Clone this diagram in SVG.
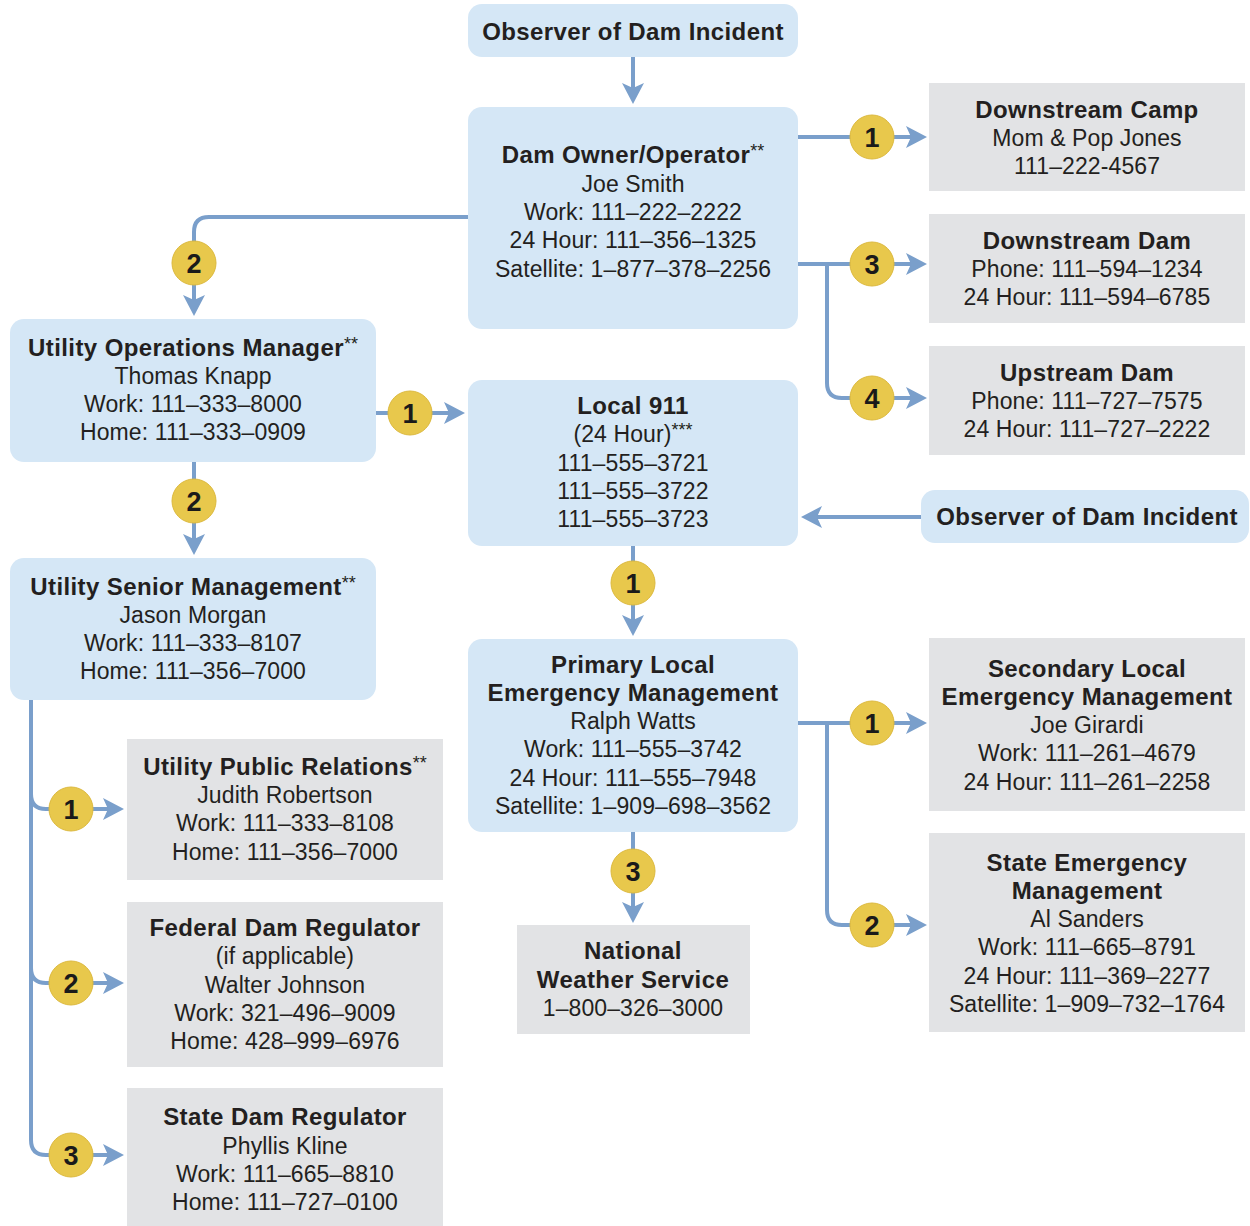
<svg xmlns="http://www.w3.org/2000/svg" width="1250" height="1226" viewBox="0 0 1250 1226">
<defs>
<style>
.bl{fill:#d5e7f6}
.gr{fill:#e2e3e5}
text{font-family:"Liberation Sans",Arial,sans-serif;fill:#231f20;text-anchor:middle}
.t{font-size:24px;font-weight:bold;letter-spacing:0.4px}
.r{font-size:23px;letter-spacing:0.1px}
.s{font-size:18px;font-weight:normal;letter-spacing:0}
.cn{fill:none;stroke:#7a9fcb;stroke-width:4}
.bd{fill:#e8c84c;stroke:#dcb93e;stroke-width:1}
.bn{font-size:27px;font-weight:bold;fill:#1a1a1a}
</style>
<marker id="ah" markerUnits="userSpaceOnUse" markerWidth="22" markerHeight="24" viewBox="0 0 22 24" refX="5" refY="12" orient="auto">
<path d="M0,1 L21,12 L0,23 L5,12 Z" fill="#7a9fcb"/>
</marker>
</defs>
<rect width="1250" height="1226" fill="#ffffff"/>

<g id="connectors">
<path class="cn" d="M633,57 V88" marker-end="url(#ah)"/>
<path class="cn" d="M798,137 H911" marker-end="url(#ah)"/>
<path class="cn" d="M798,264 H911" marker-end="url(#ah)"/>
<path class="cn" d="M827,264 V383 Q827,398 842,398 H911" marker-end="url(#ah)"/>
<path class="cn" d="M468,217 H209 Q194,217 194,232 V300" marker-end="url(#ah)"/>
<path class="cn" d="M376,413 H449" marker-end="url(#ah)"/>
<path class="cn" d="M194,462 V539" marker-end="url(#ah)"/>
<path class="cn" d="M921,517 H817" marker-end="url(#ah)"/>
<path class="cn" d="M633,546 V620" marker-end="url(#ah)"/>
<path class="cn" d="M798,723 H911" marker-end="url(#ah)"/>
<path class="cn" d="M827,723 V910 Q827,925 842,925 H911" marker-end="url(#ah)"/>
<path class="cn" d="M633,832 V907" marker-end="url(#ah)"/>
<path class="cn" d="M31,700 V1140 Q31,1155 46,1155 H108" marker-end="url(#ah)"/>
<path class="cn" d="M31,794 Q31,809 46,809 H108" marker-end="url(#ah)"/>
<path class="cn" d="M31,968 Q31,983 46,983 H108" marker-end="url(#ah)"/>
<g id="badges">
<circle class="bd" cx="872" cy="137" r="22"/><text class="bn" x="872" y="147">1</text>
<circle class="bd" cx="872" cy="264" r="22"/><text class="bn" x="872" y="274">3</text>
<circle class="bd" cx="872" cy="398" r="22"/><text class="bn" x="872" y="408">4</text>
<circle class="bd" cx="194" cy="263" r="22"/><text class="bn" x="194" y="273">2</text>
<circle class="bd" cx="410" cy="413" r="22"/><text class="bn" x="410" y="423">1</text>
<circle class="bd" cx="194" cy="501" r="22"/><text class="bn" x="194" y="511">2</text>
<circle class="bd" cx="633" cy="583" r="22"/><text class="bn" x="633" y="593">1</text>
<circle class="bd" cx="872" cy="723" r="22"/><text class="bn" x="872" y="733">1</text>
<circle class="bd" cx="872" cy="925" r="22"/><text class="bn" x="872" y="935">2</text>
<circle class="bd" cx="633" cy="871" r="22"/><text class="bn" x="633" y="881">3</text>
<circle class="bd" cx="71" cy="809" r="22"/><text class="bn" x="71" y="819">1</text>
<circle class="bd" cx="71" cy="983" r="22"/><text class="bn" x="71" y="993">2</text>
<circle class="bd" cx="71" cy="1155" r="22"/><text class="bn" x="71" y="1165">3</text>
</g>
</g>

<g id="observer-top">
<rect class="bl" x="468" y="4" width="330" height="53" rx="14"/>
<text class="t" x="633" y="40">Observer of Dam Incident</text>
</g>

<g id="dam-owner">
<rect class="bl" x="468" y="107" width="330" height="222" rx="14"/>
<text class="t" x="633" y="163">Dam Owner/Operator<tspan class="s" dy="-6">**</tspan></text>
<text class="r" x="633" y="192">Joe Smith</text>
<text class="r" x="633" y="220">Work: 111–222–2222</text>
<text class="r" x="633" y="248">24 Hour: 111–356–1325</text>
<text class="r" x="633" y="277">Satellite: 1–877–378–2256</text>
</g>

<g id="downstream-camp">
<rect class="gr" x="929" y="83" width="316" height="108"/>
<text class="t" x="1087" y="118">Downstream Camp</text>
<text class="r" x="1087" y="146">Mom &amp; Pop Jones</text>
<text class="r" x="1087" y="174">111–222-4567</text>
</g>

<g id="downstream-dam">
<rect class="gr" x="929" y="214" width="316" height="109"/>
<text class="t" x="1087" y="249">Downstream Dam</text>
<text class="r" x="1087" y="277">Phone: 111–594–1234</text>
<text class="r" x="1087" y="305">24 Hour: 111–594–6785</text>
</g>

<g id="upstream-dam">
<rect class="gr" x="929" y="346" width="316" height="109"/>
<text class="t" x="1087" y="381">Upstream Dam</text>
<text class="r" x="1087" y="409">Phone: 111–727–7575</text>
<text class="r" x="1087" y="437">24 Hour: 111–727–2222</text>
</g>

<g id="utility-ops">
<rect class="bl" x="10" y="319" width="366" height="143" rx="14"/>
<text class="t" x="193" y="356">Utility Operations Manager<tspan class="s" dy="-6">**</tspan></text>
<text class="r" x="193" y="384">Thomas Knapp</text>
<text class="r" x="193" y="412">Work: 111–333–8000</text>
<text class="r" x="193" y="440">Home: 111–333–0909</text>
</g>

<g id="local-911">
<rect class="bl" x="468" y="380" width="330" height="166" rx="14"/>
<text class="t" x="633" y="414">Local 911</text>
<text class="r" x="633" y="442">(24 Hour)<tspan class="s" dy="-6">***</tspan></text>
<text class="r" x="633" y="471">111–555–3721</text>
<text class="r" x="633" y="499">111–555–3722</text>
<text class="r" x="633" y="527">111–555–3723</text>
</g>

<g id="observer-right">
<rect class="bl" x="921" y="490" width="328" height="53" rx="14"/>
<text class="t" x="1087" y="525">Observer of Dam Incident</text>
</g>

<g id="utility-senior">
<rect class="bl" x="10" y="558" width="366" height="142" rx="14"/>
<text class="t" x="193" y="595">Utility Senior Management<tspan class="s" dy="-6">**</tspan></text>
<text class="r" x="193" y="623">Jason Morgan</text>
<text class="r" x="193" y="651">Work: 111–333–8107</text>
<text class="r" x="193" y="679">Home: 111–356–7000</text>
</g>

<g id="primary-local">
<rect class="bl" x="468" y="639" width="330" height="193" rx="14"/>
<text class="t" x="633" y="673">Primary Local</text>
<text class="t" x="633" y="701">Emergency Management</text>
<text class="r" x="633" y="729">Ralph Watts</text>
<text class="r" x="633" y="757">Work: 111–555–3742</text>
<text class="r" x="633" y="786">24 Hour: 111–555–7948</text>
<text class="r" x="633" y="814">Satellite: 1–909–698–3562</text>
</g>

<g id="secondary-local">
<rect class="gr" x="929" y="638" width="316" height="173"/>
<text class="t" x="1087" y="677">Secondary Local</text>
<text class="t" x="1087" y="705">Emergency Management</text>
<text class="r" x="1087" y="733">Joe Girardi</text>
<text class="r" x="1087" y="761">Work: 111–261–4679</text>
<text class="r" x="1087" y="790">24 Hour: 111–261–2258</text>
</g>

<g id="state-emergency">
<rect class="gr" x="929" y="833" width="316" height="199"/>
<text class="t" x="1087" y="871">State Emergency</text>
<text class="t" x="1087" y="899">Management</text>
<text class="r" x="1087" y="927">Al Sanders</text>
<text class="r" x="1087" y="955">Work: 111–665–8791</text>
<text class="r" x="1087" y="984">24 Hour: 111–369–2277</text>
<text class="r" x="1087" y="1012">Satellite: 1–909–732–1764</text>
</g>

<g id="national-weather">
<rect class="gr" x="517" y="925" width="233" height="109"/>
<text class="t" x="633" y="959">National</text>
<text class="t" x="633" y="988">Weather Service</text>
<text class="r" x="633" y="1016">1–800–326–3000</text>
</g>

<g id="public-relations">
<rect class="gr" x="127" y="739" width="316" height="141"/>
<text class="t" x="285" y="775">Utility Public Relations<tspan class="s" dy="-6">**</tspan></text>
<text class="r" x="285" y="803">Judith Robertson</text>
<text class="r" x="285" y="831">Work: 111–333–8108</text>
<text class="r" x="285" y="860">Home: 111–356–7000</text>
</g>

<g id="federal-regulator">
<rect class="gr" x="127" y="902" width="316" height="165"/>
<text class="t" x="285" y="936">Federal Dam Regulator</text>
<text class="r" x="285" y="964">(if applicable)</text>
<text class="r" x="285" y="993">Walter Johnson</text>
<text class="r" x="285" y="1021">Work: 321–496–9009</text>
<text class="r" x="285" y="1049">Home: 428–999–6976</text>
</g>

<g id="state-regulator">
<rect class="gr" x="127" y="1088" width="316" height="138"/>
<text class="t" x="285" y="1125">State Dam Regulator</text>
<text class="r" x="285" y="1154">Phyllis Kline</text>
<text class="r" x="285" y="1182">Work: 111–665–8810</text>
<text class="r" x="285" y="1210">Home: 111–727–0100</text>
</g>
</svg>
